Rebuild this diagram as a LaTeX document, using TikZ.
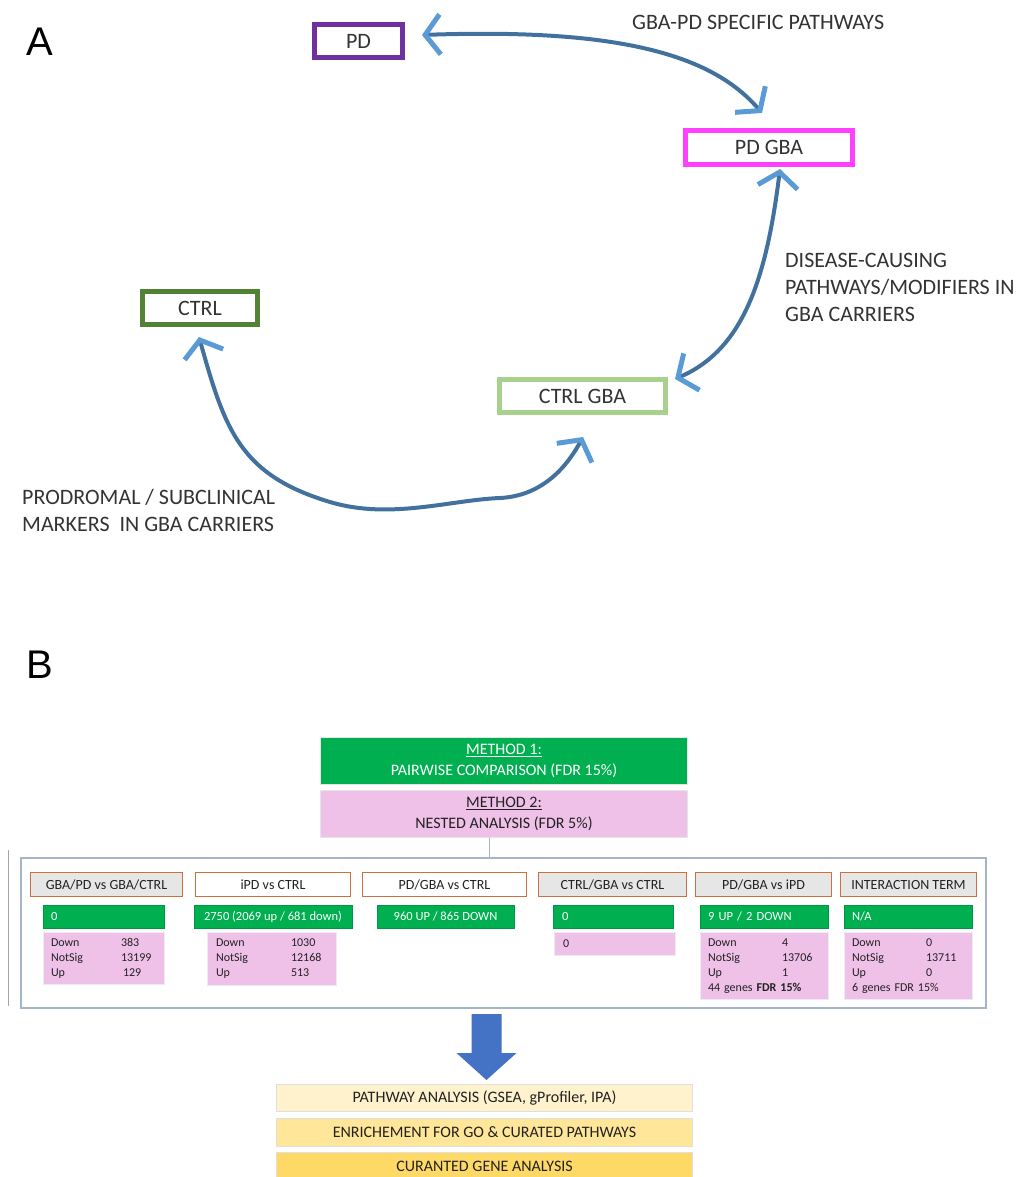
\documentclass[tikz,border=0pt]{standalone}
\usepackage{fontspec}
\setmainfont{Carlito}
\newfontfamily\labfont{Liberation Sans}
\usetikzlibrary{arrows.meta,calc}
\definecolor{cPurple}{HTML}{7030A0}
\definecolor{cMagenta}{HTML}{FF40FF}
\definecolor{cDGreen}{HTML}{548235}
\definecolor{cLGreen}{HTML}{A9D18E}
\definecolor{cCurve}{HTML}{41719C}
\definecolor{cTip}{HTML}{5B9BD5}
\definecolor{cBar}{HTML}{00B050}
\definecolor{cPink}{HTML}{EFC1E8}
\definecolor{cOrange}{HTML}{C8733F}
\definecolor{cHdr}{HTML}{E7E6E6}
\definecolor{cFrame}{HTML}{A5B4C6}
\definecolor{cY1}{HTML}{FFF2CC}
\definecolor{cY2}{HTML}{FFE699}
\definecolor{cY3}{HTML}{FFD966}
\definecolor{cArrow}{HTML}{4472C4}
\definecolor{cTxt}{HTML}{333333}
\definecolor{cTxtB}{HTML}{222222}
\begin{document}
\begin{tikzpicture}[x=1pt,y=-1pt,
  grpbox/.style={draw, line width=5pt, inner sep=0pt, text=cTxt,
    font=\fontsize{22}{27}\selectfont},
  lbl/.style={inner sep=0pt, text=cTxt, font=\fontsize{22}{27}\selectfont, align=left},
  bigl/.style={inner sep=0pt, font=\labfont\fontsize{40}{48}\selectfont},
  bcurve/.style={draw=cCurve, line width=4pt,
    {Straight Barb[length=15pt,width=40pt,line width=5pt,color=cTip]}-{Straight Barb[length=15pt,width=40pt,line width=5pt,color=cTip]}},
  meth/.style={draw=gray!20, line width=1pt, minimum width=367pt, minimum height=47pt,
    inner sep=0pt, align=center, font=\fontsize{16}{21}\selectfont},
  hdr/.style={draw=cOrange, line width=1pt, minimum height=24pt, inner sep=0pt,
    text=cTxtB, font=\fontsize{14}{17}\selectfont},
  gbar/.style={fill=cBar, draw=cBar!85!black, line width=0.4pt, minimum height=23pt, inner ysep=0pt,
    text=white, font=\fontsize{12.5}{15}\selectfont},
  pbox/.style={fill=cPink, draw=gray!15, line width=0.6pt, inner ysep=0pt, align=left,
    text=cTxtB, font=\fontsize{12}{15}\selectfont},
  bot/.style={draw=gray!25, line width=1pt, minimum width=416pt, inner sep=0pt,
    text=cTxtB, font=\fontsize{16}{19}\selectfont}
]
\useasboundingbox (0,0) rectangle (1019,1177);

% ---------------- Panel A ----------------
\node[bigl] (la) at (40,42) {A};
\node[grpbox, draw=cPurple, minimum width=88pt, minimum height=33pt] (pd) at (358.5,41) {PD};
\node[grpbox, draw=cMagenta, minimum width=167pt, minimum height=34pt] (pdgba) at (769,147.5) {PD GBA};
\node[grpbox, draw=cDGreen, minimum width=115pt, minimum height=33pt] (ctrl) at (200,308) {CTRL};
\node[grpbox, draw=cLGreen, minimum width=166pt, minimum height=33pt] (ctrlgba) at (582.5,396) {CTRL GBA};

\node[lbl, anchor=west] (t1) at (632,22) {GBA-PD SPECIFIC PATHWAYS};
\node[lbl, anchor=west] (t2) at (785,287) {DISEASE-CAUSING\\PATHWAYS/MODIFIERS IN\\GBA CARRIERS};
\node[lbl, anchor=west] (t3) at (22,510.5) {PRODROMAL / SUBCLINICAL\\MARKERS\ \ IN GBA CARRIERS};

\draw[bcurve] ($(pd.east)+(17,-6)$) .. controls (620,28) and (712,55) .. ($(pdgba.north)+(-7,-15)$);
\draw[bcurve] ($(ctrlgba.north east)+(7,2)$) .. controls (742,350) and (766,282) .. ($(pdgba.south)+(11,2)$);
\draw[bcurve] ($(ctrl.south)+(-1,10)$) .. controls (225,430) and (240,475) .. (330,502)
   .. controls (390,520) and (450,500) .. (500,498)
   .. controls (540,496) and (565,470) .. ($(ctrlgba.south)+(0.5,22)$);

% ---------------- Panel B ----------------
\node[bigl] (lb) at (40,665) {B};
\node[meth, fill=cBar, text=white] (m1) at (504,761) {\underline{METHOD 1:}\\PAIRWISE COMPARISON (FDR 15\%)};
\node[meth, fill=cPink, text=cTxtB] (m2) at (504,814) {\underline{METHOD 2:}\\NESTED ANALYSIS (FDR 5\%)};

\node[draw=cFrame, line width=2pt, minimum width=965pt, minimum height=150pt, inner sep=0pt] (frame) at (503.5,933) {};
\draw[draw=cFrame, line width=1pt] ([xshift=-15pt]m2.south) -- ([xshift=-15pt]m2.south |- frame.north);
\draw[draw=gray!70, line width=1pt] (8,850) -- (8,1006);

% headers
\node[hdr, fill=cHdr, minimum width=152pt] (h1) at (106.5,884.5) {GBA/PD vs GBA/CTRL};
\node[hdr, fill=white, minimum width=155pt] (h2) at (273,884.5) {iPD vs CTRL};
\node[hdr, fill=white, minimum width=164pt] (h3) at (444.5,884.5) {PD/GBA vs CTRL};
\node[hdr, fill=cHdr, minimum width=148pt] (h4) at (612.5,884.5) {CTRL/GBA vs CTRL};
\node[hdr, fill=cHdr, minimum width=136pt] (h5) at (763.5,884.5) {PD/GBA vs iPD};
\node[hdr, fill=cHdr, minimum width=136pt] (h6) at (908.5,884.5) {INTERACTION TERM};

% green bars
\node[gbar, inner xsep=8pt, text width=105pt, align=left] (g1) at (103.5,916.5) {0};
\node[gbar, inner xsep=0pt, minimum width=158pt] (g2) at (273,916.5) {2750 (2069 up / 681 down)};
\node[gbar, inner xsep=0pt, minimum width=137pt] (g3) at (445.5,916.5) {960 UP / 865 DOWN};
\node[gbar, inner xsep=9pt, text width=102pt, align=left] (g4) at (613,916.5) {0};
\node[gbar, inner xsep=8pt, text width=112pt, align=left] (g5) at (764,916.5) {9 UP / 2 DOWN};
\node[gbar, inner xsep=8pt, text width=112pt, align=left] (g6) at (908,916.5) {N/A};

% pink boxes
\node[pbox, inner xsep=8pt, text width=105pt, minimum height=52pt] (p1) at (103.5,958)
  {\begin{tabular}{@{}p{70pt}@{}l@{}}Down & 383\\ NotSig & 13199\\ Up & \hspace{2pt}129\end{tabular}};
\node[pbox, inner xsep=9pt, text width=111pt, minimum height=53pt] (p2) at (271.5,958.5)
  {\begin{tabular}{@{}p{75pt}@{}l@{}}Down & 1030\\ NotSig & 12168\\ Up & 513\end{tabular}};
\node[pbox, inner xsep=9pt, text width=103pt, minimum height=23pt] (p4) at (614.5,943.5) {0};
\node[pbox, inner xsep=8pt, text width=112pt, minimum height=67pt] (p5) at (764,965.5)
  {\begin{tabular}{@{}p{74pt}@{}l@{}}Down & 4\\ NotSig & 13706\\ Up & 1\\ \multicolumn{2}{@{}l@{}}{44 genes \textbf{FDR 15\%}}\end{tabular}};
\node[pbox, inner xsep=8pt, text width=112pt, minimum height=67pt] (p6) at (908,965.5)
  {\begin{tabular}{@{}p{74pt}@{}l@{}}Down & 0\\ NotSig & 13711\\ Up & 0\\ \multicolumn{2}{@{}l@{}}{6 genes FDR 15\%}\end{tabular}};

% bottom boxes
\node[bot, fill=cY1, minimum height=27pt] (pb1) at (484.5,1098) {PATHWAY ANALYSIS (GSEA, gProfiler, IPA)};
\node[bot, fill=cY2, minimum height=28pt] (pb2) at (484.5,1132.5) {ENRICHEMENT FOR GO \& CURATED PATHWAYS};
\node[bot, fill=cY3, minimum height=28pt] (pb3) at (484.5,1166) {CURANTED GENE ANALYSIS};

% big block arrow from frame to analysis
\fill[cArrow] ($(pb1.north)+(-13,-70)$) -- ($(pb1.north)+(17,-70)$) -- ($(pb1.north)+(17,-31)$)
  -- ($(pb1.north)+(32,-31)$) -- ($(pb1.north)+(2,-4)$) -- ($(pb1.north)+(-28,-31)$)
  -- ($(pb1.north)+(-13,-31)$) -- cycle;
\end{tikzpicture}
\end{document}
